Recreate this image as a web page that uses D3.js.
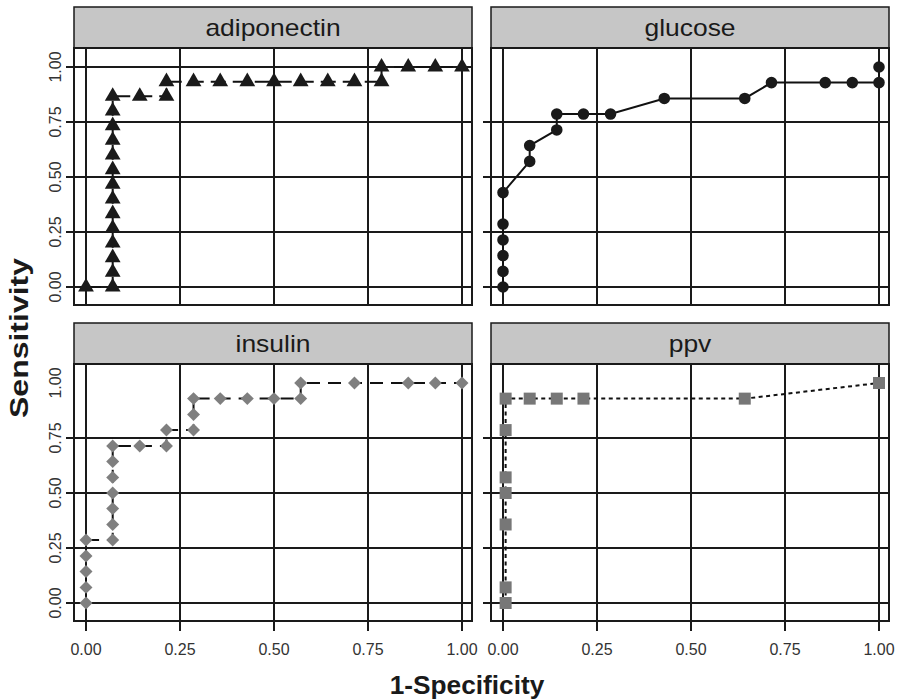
<!DOCTYPE html>
<html>
<head>
<meta charset="utf-8">
<script src="https://cdn.jsdelivr.net/npm/d3@7"></script>
<style>
  body { margin: 0; background: #fff; }
  text { font-family: "Liberation Sans", Arial, sans-serif; }
</style>
</head>
<body>
<div id="chart"></div>
<script>
// ROC curves, one facet per marker
var panels = ["adiponectin", "glucose", "insulin", "ppv"];

var adiponectinX = [0, 0.071, 0.071, 0.071, 0.071, 0.071, 0.071, 0.071, 0.071, 0.071, 0.071, 0.071, 0.071, 0.071, 0.071,
                    0.143, 0.214, 0.214, 0.286, 0.357, 0.429, 0.5, 0.571, 0.643, 0.714, 0.786, 0.786, 0.857, 0.929, 1];
var adiponectinY = [0, 0, 0.067, 0.133, 0.2, 0.267, 0.333, 0.4, 0.467, 0.533, 0.6, 0.667, 0.733, 0.8, 0.867,
                    0.867, 0.867, 0.933, 0.933, 0.933, 0.933, 0.933, 0.933, 0.933, 0.933, 0.933, 1, 1, 1, 1];

var glucoseX = [0, 0, 0, 0, 0, 0, 0.071, 0.071, 0.143, 0.143, 0.214, 0.286, 0.429, 0.643, 0.714, 0.857, 0.929, 1, 1];
var glucoseY = [0, 0.071, 0.143, 0.214, 0.286, 0.429, 0.571, 0.643, 0.714, 0.786, 0.786, 0.786, 0.857, 0.857, 0.929, 0.929, 0.929, 0.929, 1];

var insulinX = [0, 0, 0, 0, 0, 0.071, 0.071, 0.071, 0.071, 0.071, 0.071, 0.071, 0.143, 0.214, 0.214, 0.286, 0.286, 0.286,
                0.357, 0.429, 0.5, 0.571, 0.571, 0.714, 0.857, 0.929, 1];
var insulinY = [0, 0.071, 0.143, 0.214, 0.286, 0.286, 0.357, 0.429, 0.5, 0.571, 0.643, 0.714, 0.714, 0.714, 0.786, 0.786, 0.857, 0.929,
                0.929, 0.929, 0.929, 0.929, 1, 1, 1, 1, 1];

var ppvX = [0.007, 0.007, 0.007, 0.007, 0.007, 0.007, 0.007, 0.071, 0.143, 0.214, 0.643, 1];
var ppvY = [0, 0.071, 0.357, 0.5, 0.571, 0.786, 0.929, 0.929, 0.929, 0.929, 0.929, 1];

var xTicks = [0, 0.25, 0.5, 0.75, 1];
var yTicks = [0, 0.25, 0.5, 0.75, 1];
var tickLabels = ["0.00", "0.25", "0.50", "0.75", "1.00"];
// only the first facet shows a break at 1.00
var yGrid = {adiponectin: [0, 0.25, 0.5, 0.75, 1], glucose: [0, 0.25, 0.5, 0.75],
             insulin: [0, 0.25, 0.5, 0.75], ppv: [0, 0.25, 0.5, 0.75]};

var series = {
  adiponectin: {x: adiponectinX, y: adiponectinY, shape: "triangle", fill: "#1a1a1a", dash: "15,7"},
  glucose:     {x: glucoseX, y: glucoseY, shape: "circle", fill: "#1a1a1a", dash: null},
  insulin:     {x: insulinX, y: insulinY, shape: "diamond", fill: "#7f7f7f", dash: "13,8"},
  ppv:         {x: ppvX, y: ppvY, shape: "square", fill: "#777777", dash: "4,3.5"}
};

var W = 899, H = 700,
    colLeft = [74, 491], panelW = 398,
    rowTop = [7, 323], stripH = 41, panelH = 257;

var svg = d3.select("#chart").append("svg")
    .attr("width", W)
    .attr("height", H);

var x = [0, 1].map(function (c) {
  return d3.scaleLinear().domain([0, 1]).range([colLeft[c] + 12, colLeft[c] + panelW - 10]);
});
var y = [0, 1].map(function (r) {
  var pt = rowTop[r] + stripH, pb = pt + panelH;
  return d3.scaleLinear().domain([0, 1]).range([pb - 18, pt + 19]);
});

var symbols = {
  triangle: d3.symbol().type(d3.symbolTriangle).size(108),
  circle: d3.symbol().type(d3.symbolCircle).size(105),
  diamond: d3.symbol().type(d3.symbolSquare).size(84),
  square: d3.symbol().type(d3.symbolSquare).size(144)
};

panels.forEach(function (name, i) {
  var c = i % 2, r = Math.floor(i / 2),
      sx = x[c], sy = y[r],
      left = colLeft[c], stripTop = rowTop[r], top = stripTop + stripH, bottom = top + panelH,
      s = series[name];

  var g = svg.append("g").attr("class", "panel");

  // strip
  g.append("rect")
    .attr("x", left).attr("y", stripTop)
    .attr("width", panelW).attr("height", stripH)
    .attr("fill", "#c6c6c6").attr("stroke", "#1a1a1a").attr("stroke-width", 1.5);
  g.append("text")
    .attr("transform", "translate(" + (left + panelW / 2) + "," + (stripTop + stripH / 2 + 8) + ") scale(1.15,1)")
    .attr("text-anchor", "middle")
    .attr("font-size", 23)
    .attr("fill", "#1a1a1a")
    .text(name);

  g.append("rect")
    .attr("x", left).attr("y", top)
    .attr("width", panelW).attr("height", panelH)
    .attr("fill", "#fff");

  // grid
  g.selectAll(".vgrid").data(xTicks).enter().append("line")
    .attr("x1", function (d) { return sx(d); }).attr("x2", function (d) { return sx(d); })
    .attr("y1", top).attr("y2", r === 1 ? bottom + 10 : bottom)
    .attr("stroke", "#1a1a1a").attr("stroke-width", 2);
  g.selectAll(".hgrid").data(yGrid[name]).enter().append("line")
    .attr("x1", left - 8).attr("x2", left + panelW)
    .attr("y1", function (d) { return sy(d); }).attr("y2", function (d) { return sy(d); })
    .attr("stroke", "#1a1a1a").attr("stroke-width", 2);

  g.append("rect")
    .attr("x", left).attr("y", top)
    .attr("width", panelW).attr("height", panelH)
    .attr("fill", "none").attr("stroke", "#1a1a1a").attr("stroke-width", 2);

  // data
  var pts = s.x.map(function (v, k) { return [v, s.y[k]]; });
  var line = d3.line()
    .x(function (d) { return sx(d[0]); })
    .y(function (d) { return sy(d[1]); });
  g.append("path")
    .datum(pts)
    .attr("d", line)
    .attr("fill", "none")
    .attr("stroke", "#111")
    .attr("stroke-width", 2)
    .attr("stroke-dasharray", s.dash);

  g.selectAll(".pt").data(pts).enter().append("path")
    .attr("class", "pt")
    .attr("d", symbols[s.shape])
    .attr("transform", function (d) {
      return "translate(" + sx(d[0]) + "," + sy(d[1]) + ")" + (s.shape === "diamond" ? " rotate(45)" : "");
    })
    .attr("fill", s.fill);

  // y labels on left column
  if (c === 0) {
    g.selectAll(".ylab").data(yTicks).enter().append("text")
      .attr("transform", function (d) { return "translate(61," + sy(d) + ") rotate(-90)"; })
      .attr("text-anchor", "middle")
      .attr("font-size", 16)
      .attr("fill", "#333")
      .text(function (d, k) { return tickLabels[k]; });
  }
  // x labels on bottom row
  if (r === 1) {
    g.selectAll(".xlab").data(xTicks).enter().append("text")
      .attr("x", function (d) { return sx(d); })
      .attr("y", bottom + 34)
      .attr("text-anchor", "middle")
      .attr("font-size", 16)
      .attr("fill", "#333")
      .text(function (d, k) { return tickLabels[k]; });
  }
});

svg.append("text")
  .attr("transform", "translate(467,694) scale(1.05,1)")
  .attr("text-anchor", "middle")
  .attr("font-size", 25).attr("font-weight", "bold")
  .attr("fill", "#1a1a1a")
  .text("1-Specificity");

svg.append("text")
  .attr("transform", "translate(28,338) rotate(-90) scale(1.28,1)")
  .attr("text-anchor", "middle")
  .attr("font-size", 25).attr("font-weight", "bold")
  .attr("fill", "#1a1a1a")
  .text("Sensitivity");
</script>
</body>
</html>
